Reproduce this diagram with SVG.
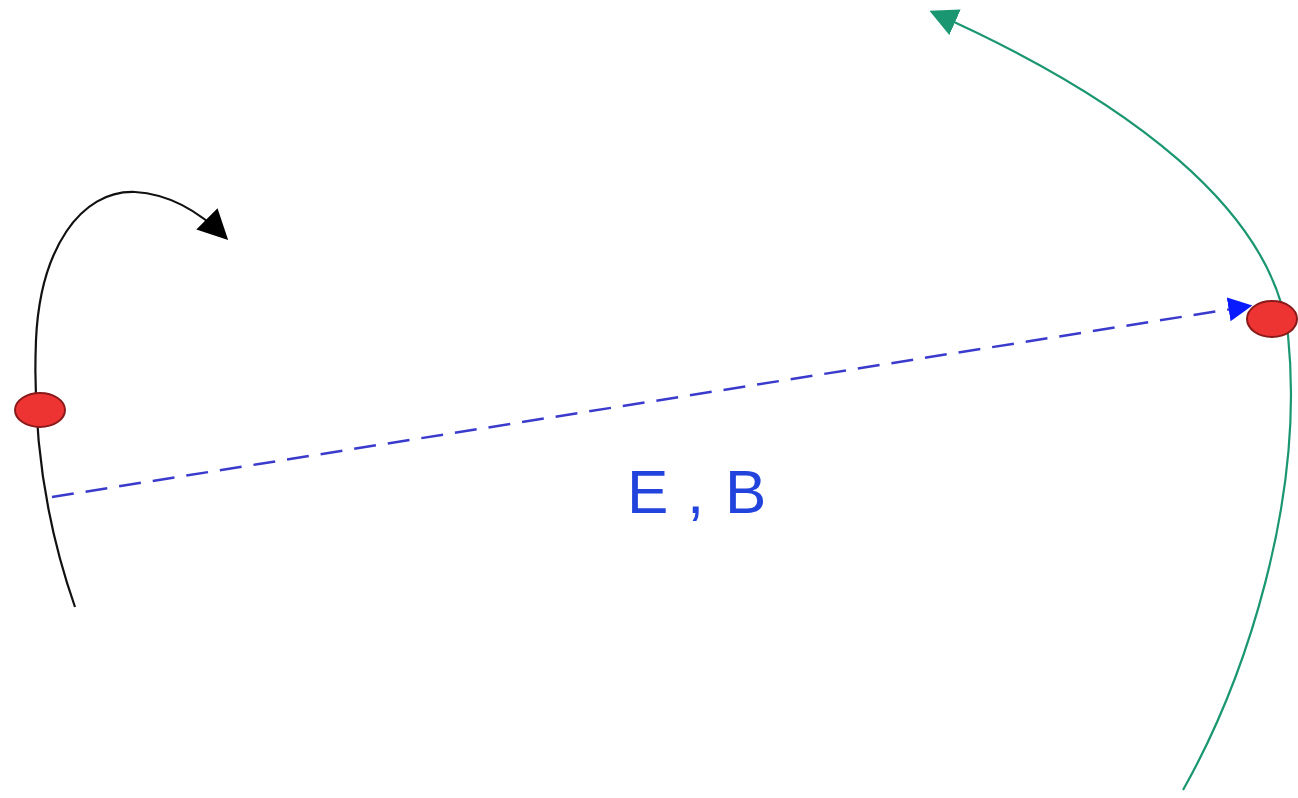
<svg xmlns="http://www.w3.org/2000/svg" width="1298" height="798" viewBox="0 0 1298 798">
<style>
.pt{fill:#ee3333;stroke:#8a1a1a;stroke-width:2}
.lbl{font-family:"Liberation Sans",Arial,sans-serif;font-size:62px;fill:#2244dd}
</style>
<defs>
<marker id="ab" viewBox="0 0 10 10" refX="9" refY="5" markerWidth="30" markerHeight="30" markerUnits="userSpaceOnUse" orient="auto"><path d="M0,0 L10,5 L0,10 z" fill="#000"/></marker>
<marker id="ag" viewBox="0 0 10 10" refX="9" refY="5" markerWidth="28" markerHeight="28" markerUnits="userSpaceOnUse" orient="auto"><path d="M0,0 L10,5 L0,10 z" fill="#1a9670"/></marker>
<marker id="au" viewBox="0 0 10 10" refX="9" refY="5" markerWidth="24" markerHeight="24" markerUnits="userSpaceOnUse" orient="auto"><path d="M0,0 L10,5 L0,10 z" fill="#0a1aff"/></marker>
</defs>
<rect width="1298" height="798" fill="#fff"/>
<g id="connectors" fill="none">
<path d="M75,607 C48,530 32,440 36,340 C40,250 80,190 135,192 C170,194 200,212 226,238" stroke="#111" stroke-width="2.2" marker-end="url(#ab)"/>
<path d="M1183,790 C1245,680 1305,500 1288,335 C1272,210 1130,100 932,12" stroke="#1a9670" stroke-width="2.2" marker-end="url(#ag)"/>
<path d="M52,497 L1250,306" stroke="#3a3acc" stroke-width="2.5" stroke-dasharray="22,12" marker-end="url(#au)"/>
</g>
<g id="charge-left"><ellipse class="pt" cx="40" cy="410" rx="25" ry="17"/></g>
<g id="charge-right"><ellipse class="pt" cx="1272" cy="319" rx="25" ry="18"/></g>
<g id="label"><text class="lbl" y="513"><tspan x="627">E</tspan> <tspan x="687">,</tspan> <tspan x="725">B</tspan></text></g>
</svg>
